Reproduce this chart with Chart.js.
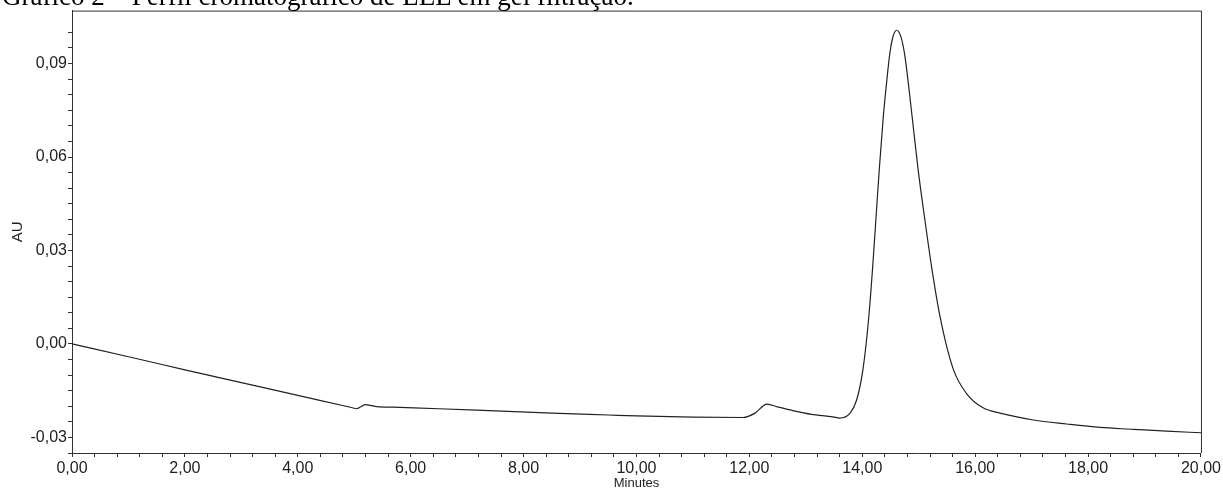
<!DOCTYPE html>
<html lang="pt">
<head>
  <meta charset="UTF-8">
  <title>Gráfico 2 – Perfil cromatográfico de LEL em gel filtração</title>
  <script src="https://cdn.jsdelivr.net/npm/chart.js"></script>
  <style>
    body { margin: 0; background: #fff; }
    .contenedor { position: relative; width: 1223px; height: 491px; overflow: hidden; }
    .titulo {
      position: absolute; left: 2px; top: -4px; line-height: 0;
      font-family: "Liberation Serif", "Times New Roman", serif; font-size: 27px;
      color: #000; white-space: nowrap; z-index: 2;
    }
  </style>
</head>
<body>
  <div class="contenedor">
    <div class="titulo">Gráfico 2 – Perfil cromatográfico de LEL em gel filtração.</div>
    <canvas id="cromatograma"></canvas>
  </div>

  <script>
    const tempos = [
      0, 1, 2, 3, 4, 4.95, 5.04, 5.13, 5.19, 5.28, 5.40, 5.69,
      6.5, 7.5, 8.5, 9.5, 10.0, 11.0, 11.89, 12.1, 12.31, 12.5, 12.77, 13.1, 13.48,
      13.60, 13.78, 13.90, 14.01, 14.11, 14.18, 14.24, 14.30, 14.37, 14.43, 14.49, 14.55,
      14.61,
      14.68, 14.75, 14.82, 14.89, 14.99, 15.11, 15.23, 15.38, 15.61, 15.85, 16.14, 16.44,
      17.03, 17.62, 18.21, 18.80, 19.39, 20.0
    ];
    const absorbancia = [
      0, -0.0041, -0.0083, -0.0124, -0.0165, -0.0204, -0.0208, -0.0200, -0.0195, -0.0197, -0.0201, -0.0203,
      -0.0208, -0.0215, -0.0222, -0.0228, -0.0231, -0.0235, -0.0236, -0.0222, -0.0193, -0.0202, -0.0214, -0.0226, -0.0234,
      -0.0238, -0.0223, -0.0180, -0.0084, 0.0076, 0.0237, 0.0397, 0.0558, 0.0725, 0.0838, 0.0935, 0.0990,
      0.1007,
      0.0988, 0.0930, 0.0830, 0.0718, 0.0558, 0.0397, 0.0245, 0.0085, -0.0080, -0.0160, -0.0205, -0.0222,
      -0.0244, -0.0257, -0.0268, -0.0274, -0.0280, -0.0285
    ];

    const ejeX = { min: 0, max: 20, paso: 0.4, etiqueta: 2 };
    const ejeY = { min: -0.035, max: 0.107, paso: 0.005, etiqueta: 0.03 };

    const esMultiplo = (v, m) => Math.abs(v / m - Math.round(v / m)) < 1e-6;
    const formato = v => v.toFixed(2).replace('.', ',');

    const puntos = tempos.map((t, i) => ({ x: t, y: absorbancia[i] }));

    // marco superior y derecho del gráfico
    const marco = {
      id: 'marco',
      afterDraw(chart) {
        const { ctx, chartArea: a } = chart;
        ctx.save();
        ctx.strokeStyle = '#333';
        ctx.lineWidth = 1;
        ctx.beginPath();
        ctx.moveTo(a.left, a.top + 0.5);
        ctx.lineTo(a.right + 0.5, a.top + 0.5);
        ctx.lineTo(a.right + 0.5, a.bottom);
        ctx.stroke();
        ctx.restore();
      }
    };

    const ctx = document.getElementById('cromatograma').getContext('2d');
    new Chart(ctx, {
      type: 'line',
      data: {
        datasets: [{
          data: puntos,
          borderColor: '#222',
          borderWidth: 1.2,
          pointRadius: 0,
          cubicInterpolationMode: 'monotone',
          fill: false
        }]
      },
      options: {
        responsive: true,
        maintainAspectRatio: false,
        animation: false,
        events: [],
        layout: { padding: { top: 9, right: 22, left: 0, bottom: 0 } },
        plugins: { legend: { display: false }, tooltip: { enabled: false } },
        scales: {
          x: {
            type: 'linear',
            min: ejeX.min,
            max: ejeX.max,
            afterFit: s => { s.height = 38; },
            border: { color: '#333' },
            grid: { drawOnChartArea: false, tickLength: 4, tickColor: '#333' },
            ticks: {
              stepSize: ejeX.paso,
              autoSkip: false,
              maxRotation: 0,
              padding: 2,
              color: '#222',
              font: { family: 'Liberation Sans, Arial, sans-serif', size: 16 },
              callback: v => esMultiplo(v, ejeX.etiqueta) ? formato(v) : ''
            },
            title: {
              display: true,
              text: 'Minutes',
              color: '#222',
              padding: 0,
              font: { family: 'Liberation Sans, Arial, sans-serif', size: 13 }
            }
          },
          y: {
            min: ejeY.min,
            max: ejeY.max,
            afterFit: s => { s.width = 72; },
            afterBuildTicks: s => { s.ticks = s.ticks.filter(t => esMultiplo(t.value, ejeY.paso)); },
            border: { color: '#333' },
            grid: { drawOnChartArea: false, tickLength: 4, tickColor: '#333' },
            ticks: {
              stepSize: ejeY.paso,
              autoSkip: false,
              padding: 1,
              color: '#222',
              font: { family: 'Liberation Sans, Arial, sans-serif', size: 16 },
              callback: v => esMultiplo(v, ejeY.etiqueta) ? formato(v) : ''
            },
            title: {
              display: true,
              text: 'AU',
              color: '#222',
              padding: { top: 9, bottom: 0 },
              font: { family: 'Liberation Sans, Arial, sans-serif', size: 15 }
            }
          }
        }
      },
      plugins: [marco]
    });
  </script>
</body>
</html>
